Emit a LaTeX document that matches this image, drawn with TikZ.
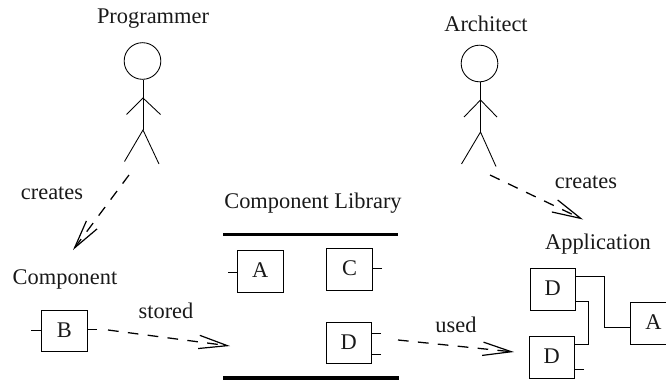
\documentclass[tikz,border=0pt]{standalone}
\usepackage{fontspec}
\setmainfont{Liberation Serif}
\usetikzlibrary{arrows.meta}
\tikzset{
  every node/.style={font=\fontsize{16.8}{20}\selectfont, text=black!90},
  label text/.style={anchor=base, inner sep=0pt},
  compbox/.style={draw, line width=.6pt, inner sep=0pt, minimum width=34.1pt, minimum height=31.1pt,
    text height=11.1pt, text depth=1.5pt},
  stub/.style={line width=.6pt},
  wire/.style={line width=.6pt},
  figure line/.style={line width=.65pt},
  headc/.style={draw, circle, line width=.65pt, inner sep=0pt, minimum size=27.5pt},
  shelf/.style={line width=2.3pt},
  dep/.style={line width=.95pt, dash pattern=on 8pt off 7pt,
    -{Straight Barb[length=21.5pt,width=10pt,line width=.9pt]}},
}
\begin{document}
\begin{tikzpicture}[x=.75pt,y=-.75pt]
\useasboundingbox (0,0) rectangle (666,382);
\clip (0,0) rectangle (666,382);

% texts
\node[label text] (tprog) at (153,23) {Programmer};
\node[label text] (tarch) at (486,31) {Architect};
\node[label text] (tcr1) at (52,199) {creates};
\node[label text] (tcr2) at (586,188.5) {creates};
\node[label text] (tcomp) at (65,284) {Component};
\node[label text] (tlib) at (313,208.5) {Component Library};
\node[label text] (tapp) at (598,249) {Application};
\node[label text] (tstored) at (166,318.5) {stored};
\node[label text] (tused) at (456,332) {used};

% programmer
\node[headc] (h1) at (142.5,61) {};
\coordinate (n1) at (143,80);
\coordinate (s1) at (143,98);
\coordinate (w1) at (143,130);
\coordinate (al1) at (126.5,114.5);
\coordinate (ar1) at (160.5,114.5);
\coordinate (ll1) at (124.5,161.5);
\coordinate (lr1) at (159,164);
\draw[figure line] (n1) -- (w1);
\draw[figure line] (al1) -- (s1) -- (ar1);
\draw[figure line] (ll1) -- (w1) -- (lr1);

% architect
\node[headc] (h2) at (479.5,63.5) {};
\coordinate (n2) at (480.5,82);
\coordinate (s2) at (480.5,100);
\coordinate (w2) at (480.5,132);
\coordinate (al2) at (464,117);
\coordinate (ar2) at (497,117);
\coordinate (ll2) at (461.5,164);
\coordinate (lr2) at (496,166.5);
\draw[figure line] (n2) -- (w2);
\draw[figure line] (al2) -- (s2) -- (ar2);
\draw[figure line] (ll2) -- (w2) -- (lr2);

% boxes
\node[compbox] (b) at (64.25,330.75) {B};
\node[compbox] (a) at (260.25,271.5) {A};
\node[compbox] (c) at (349.5,269.5) {C};
\node[compbox] (d) at (348.75,342.75) {D};
\node[compbox] (d1) at (552.75,289.5) {D};
\node[compbox] (d2) at (551.75,357.5) {D};
\node[compbox] (a2) at (653.5,323.5) {A};

% stubs
\coordinate (bl) at (31,330);
\coordinate (br) at (97,329);
\coordinate (al) at (228,272);
\coordinate (cr) at (382,268);
\coordinate (dr1) at (381,333);
\coordinate (dr2) at (381,354.5);
\coordinate (d2r) at (584,369);
\draw[stub] (bl) -- (bl -| b.west);
\draw[stub] (br) -- (br -| b.east);
\draw[stub] (al) -- (al -| a.west);
\draw[stub] (cr) -- (cr -| c.east);
\draw[stub] (dr1) -- (dr1 -| d.east);
\draw[stub] (dr2) -- (dr2 -| d.east);
\draw[stub] (d2r) -- (d2r -| d2.east);

% wires in application
\coordinate (w1a) at (575.5,276.5);
\coordinate (w1b) at (604,276.5);
\coordinate (w1c) at (604,327);
\coordinate (w2a) at (575.5,301);
\coordinate (w2b) at (588,301);
\coordinate (w2c) at (588,344);
\draw[wire] (d1.east |- w1a) -- (w1b) -- (w1c) -- (a2.west |- w1c);
\draw[wire] (d1.east |- w2a) -- (w2b) -- (w2c) -- (d2.east |- w2c);

% library shelves
\coordinate (sh1a) at (223,234.5);
\coordinate (sh1b) at (398,234.5);
\coordinate (sh2a) at (223,378);
\coordinate (sh2b) at (398.5,378);
\draw[shelf] (sh1a) -- (sh1b);
\draw[shelf] (sh2a) -- (sh2b);

% dashed arrows
\coordinate (p1) at (129,175);
\coordinate (p2) at (73,250);
\coordinate (q1) at (490,175);
\coordinate (q2) at (583,219.5);
\coordinate (st1) at (108,330);
\coordinate (st2) at (230,346);
\coordinate (us1) at (398,340);
\coordinate (us2) at (514,352);
\draw[dep] (p1) -- (p2);
\draw[dep] (q1) -- (q2);
\draw[dep] (st1) -- (st2);
\draw[dep] (us1) -- (us2);
\end{tikzpicture}
\end{document}
